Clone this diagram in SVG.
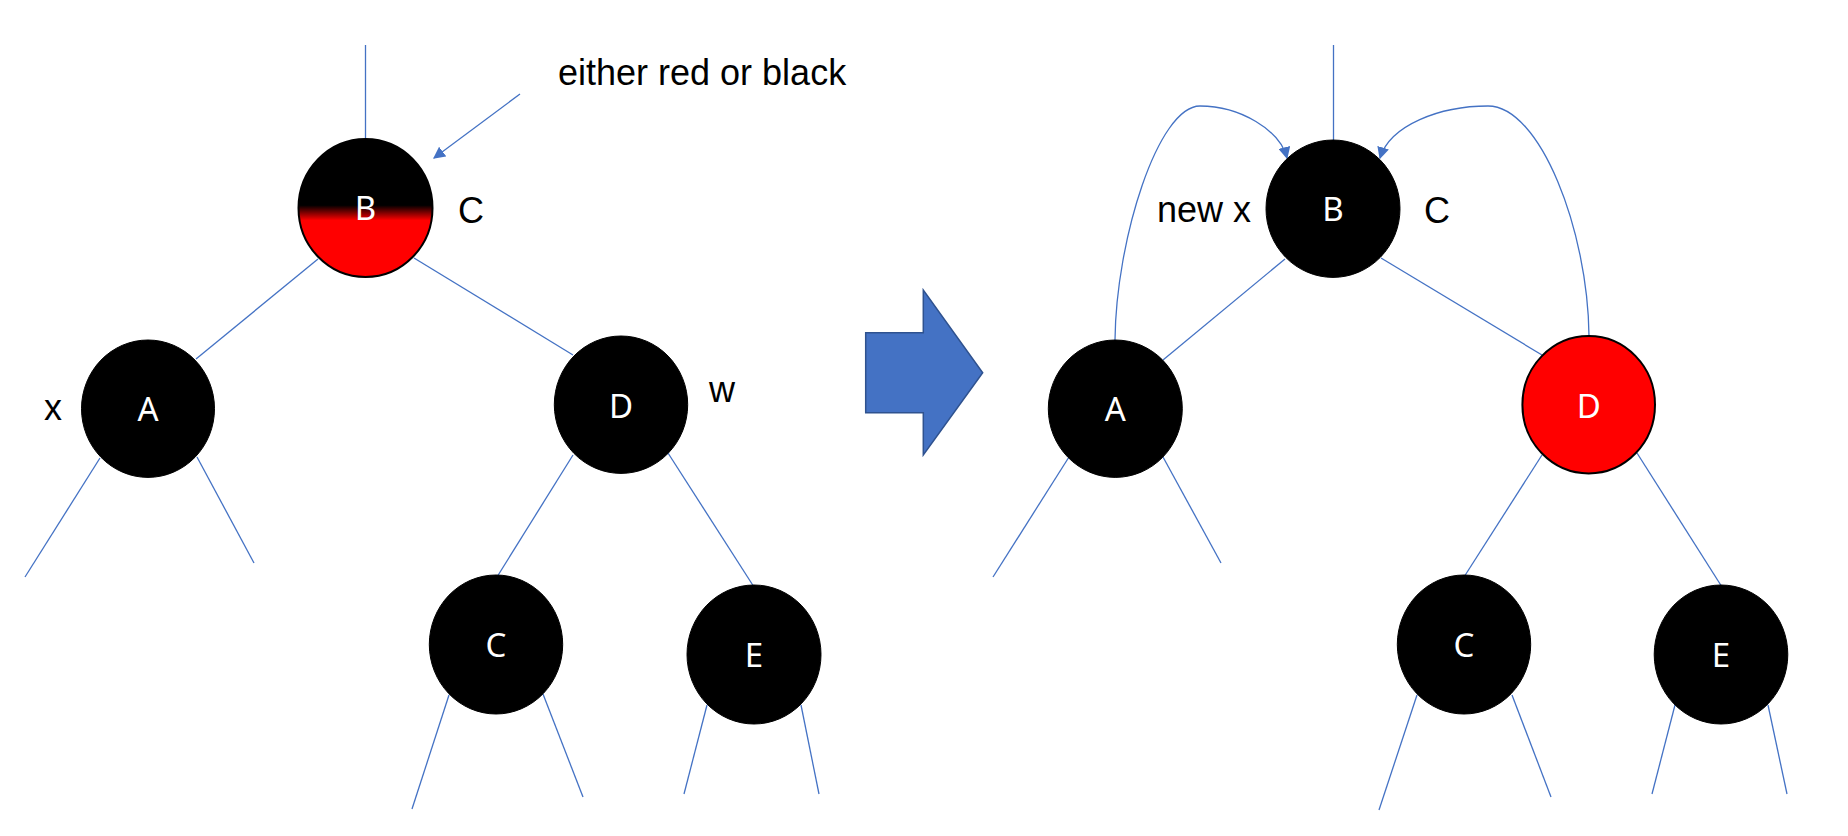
<svg xmlns="http://www.w3.org/2000/svg" width="1848" height="836" viewBox="0 0 1848 836">
<style>
.edge{stroke:#4472C4;stroke-width:1.3;fill:none}
.blk{fill:#000000;stroke:#000000;stroke-width:1}
.red{fill:#FF0000;stroke:#000000;stroke-width:2}
.nl{font-family:"Noto Sans","Liberation Sans",sans-serif;font-size:33px;fill:#FFFFFF;text-anchor:middle}
.lbl{font-family:"Liberation Sans",Arial,sans-serif;font-size:36px;fill:#000000}
</style>
<defs>
<linearGradient id="rb" x1="0" y1="0" x2="0" y2="1">
<stop offset="0" stop-color="#000000"/>
<stop offset="0.48" stop-color="#000000"/>
<stop offset="0.59" stop-color="#FF0000"/>
<stop offset="1" stop-color="#FF0000"/>
</linearGradient>
<marker id="ah" viewBox="0 0 10 10" refX="9" refY="5" markerWidth="12" markerHeight="12" markerUnits="userSpaceOnUse" orient="auto">
<path d="M0,0 L10,5 L0,10 z" fill="#4472C4"/>
</marker>
</defs>
<rect width="1848" height="836" fill="#FFFFFF"/>
<g id="connectors">
<line class="edge" x1="365.5" y1="45" x2="365.5" y2="139"/>
<line class="edge" x1="318" y1="259" x2="196" y2="359"/>
<line class="edge" x1="414" y1="258" x2="573" y2="355"/>
<line class="edge" x1="100" y1="458" x2="25" y2="577"/>
<line class="edge" x1="197" y1="457" x2="254" y2="563"/>
<line class="edge" x1="573" y1="455" x2="497" y2="577"/>
<line class="edge" x1="668" y1="453" x2="754" y2="587"/>
<line class="edge" x1="449" y1="695" x2="412" y2="809"/>
<line class="edge" x1="543" y1="694" x2="583" y2="797"/>
<line class="edge" x1="707" y1="705" x2="684" y2="794"/>
<line class="edge" x1="801" y1="705" x2="819" y2="794"/>
<line class="edge" x1="520" y1="94" x2="434" y2="158" marker-end="url(#ah)"/>
<line class="edge" x1="1333.5" y1="45" x2="1333.5" y2="140"/>
<line class="edge" x1="1285" y1="259" x2="1163" y2="360"/>
<line class="edge" x1="1381" y1="258" x2="1542" y2="355"/>
<line class="edge" x1="1069" y1="457" x2="993" y2="577"/>
<line class="edge" x1="1163" y1="457" x2="1221" y2="563"/>
<line class="edge" x1="1542" y1="455" x2="1464" y2="577"/>
<line class="edge" x1="1637" y1="453" x2="1722" y2="587"/>
<line class="edge" x1="1417" y1="695" x2="1379" y2="810"/>
<line class="edge" x1="1512" y1="695" x2="1551" y2="797"/>
<line class="edge" x1="1675" y1="705" x2="1652" y2="794"/>
<line class="edge" x1="1768" y1="705" x2="1787" y2="794"/>
<path class="edge" d="M1115,340 C1116,240 1158,106 1200,106 C1240,106 1280,130 1287,158" marker-end="url(#ah)"/>
<path class="edge" d="M1589,336 C1588,230 1540,106 1488,106 C1440,106 1390,125 1380,158" marker-end="url(#ah)"/>
</g>
<g id="L_B">
<ellipse cx="365.5" cy="208" rx="67" ry="69" fill="url(#rb)" stroke="#000000" stroke-width="2"/>
<text class="nl" x="365.5" y="220">B</text>
</g>
<g id="L_A">
<ellipse class="blk" cx="148" cy="408.7" rx="66.5" ry="68.7"/>
<text class="nl" x="148" y="421">A</text>
</g>
<g id="L_D">
<ellipse class="blk" cx="621" cy="404.7" rx="66.7" ry="68.7"/>
<text class="nl" x="621" y="418">D</text>
</g>
<g id="L_C">
<ellipse class="blk" cx="496" cy="644.5" rx="66.7" ry="69.5"/>
<text class="nl" x="496" y="657">C</text>
</g>
<g id="L_E">
<ellipse class="blk" cx="754" cy="654.5" rx="67" ry="69.5"/>
<text class="nl" x="754" y="667">E</text>
</g>
<g id="labels_left">
<text class="lbl" x="558" y="85">either red or black</text>
<text class="lbl" x="458" y="223">C</text>
<text class="lbl" x="44" y="420">x</text>
<text class="lbl" x="709" y="402">w</text>
</g>
<g id="bigArrow">
<polygon points="865.7,332.7 923.3,332.7 923.3,290 982.7,372.7 923.3,455 923.3,412.7 865.7,412.7" fill="#4472C4" stroke="#2F528F" stroke-width="1.5"/>
</g>
<g id="R_B">
<ellipse class="blk" cx="1333" cy="208.7" rx="67" ry="68.7"/>
<text class="nl" x="1333" y="221">B</text>
</g>
<g id="R_A">
<ellipse class="blk" cx="1115.3" cy="408.7" rx="67" ry="68.7"/>
<text class="nl" x="1115.3" y="421">A</text>
</g>
<g id="R_D">
<ellipse class="red" cx="1588.7" cy="404.7" rx="66.3" ry="68.7"/>
<text class="nl" x="1588.7" y="418">D</text>
</g>
<g id="R_C">
<ellipse class="blk" cx="1464" cy="644.5" rx="66.7" ry="69.5"/>
<text class="nl" x="1464" y="657">C</text>
</g>
<g id="R_E">
<ellipse class="blk" cx="1721" cy="654.5" rx="66.8" ry="69.5"/>
<text class="nl" x="1721" y="667">E</text>
</g>
<g id="labels_right">
<text class="lbl" x="1157" y="222">new x</text>
<text class="lbl" x="1424" y="223">C</text>
</g>
</svg>
